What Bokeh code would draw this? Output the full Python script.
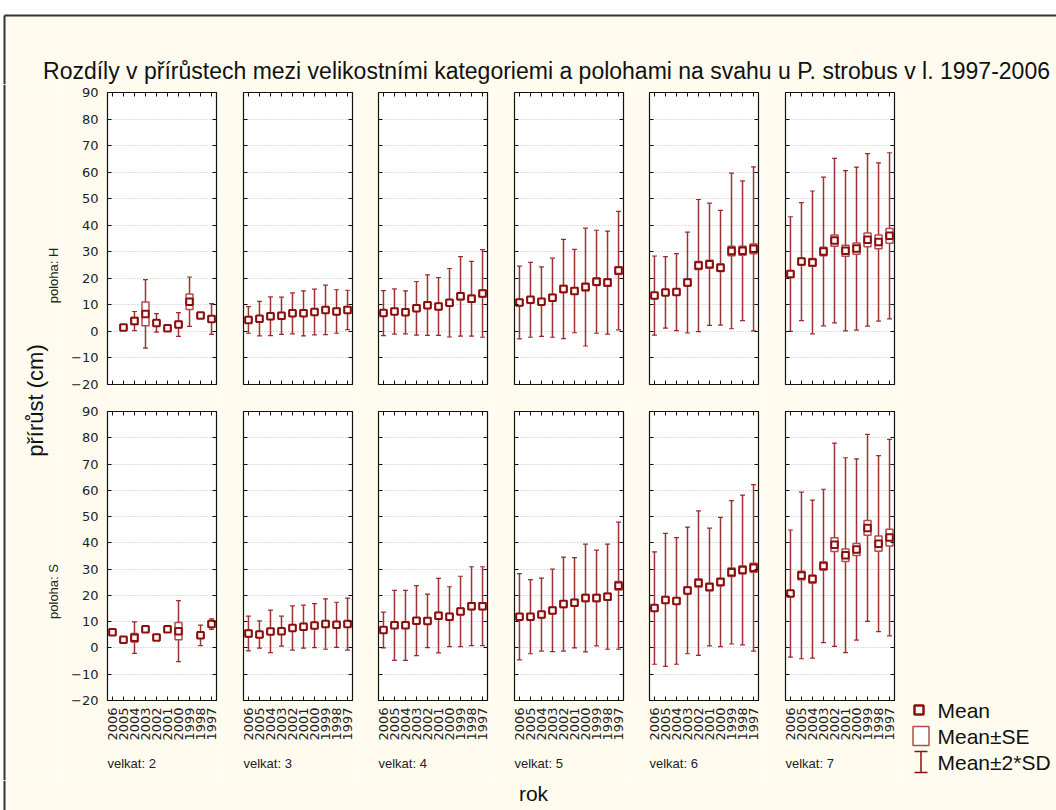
import math

from bokeh.core.properties import value
from bokeh.embed import file_html
from bokeh.layouts import column, row
from bokeh.models import ColumnDataSource, FixedTicker, Grid, LinearAxis, Range1d, Title
from bokeh.plotting import figure
from bokeh.resources import INLINE

nan = float("nan")

# ---------------------------------------------------------------- data
years = ["2006", "2005", "2004", "2003", "2002", "2001", "2000", "1999", "1998", "1997"]
velkat = [2, 3, 4, 5, 6, 7]
poloha = ["H", "S"]

# poloha H: means, standard errors and 2*SD half-widths, one list per velkat
mean_H = [
    [nan, 1.5, 3.9, 6.6, 3.2, 1.2, 2.6, 11.2, 6.0, 4.7],
    [4.3, 4.8, 5.7, 5.9, 6.8, 6.8, 7.3, 8.1, 7.5, 8.1],
    [6.9, 7.5, 7.2, 8.7, 9.9, 9.4, 10.8, 13.2, 12.3, 14.3],
    [10.9, 11.9, 11.2, 12.7, 16.0, 15.2, 16.7, 18.7, 18.4, 22.9],
    [13.5, 14.7, 14.8, 18.4, 24.8, 25.3, 24.0, 30.3, 30.4, 31.1],
    [21.6, 26.3, 26.0, 30.1, 34.2, 30.4, 31.2, 34.5, 33.7, 36.0],
]
se_H = [
    [nan, 0.9, 1.3, 4.5, 1.0, 1.0, 1.1, 2.9, 1.0, 1.2],
    [1.0, 1.0, 1.0, 1.0, 1.0, 1.0, 1.0, 1.1, 1.1, 1.2],
    [1.0, 1.0, 1.0, 1.0, 1.1, 1.1, 1.1, 1.3, 1.3, 1.3],
    [1.1, 1.1, 1.1, 1.2, 1.3, 1.2, 1.4, 1.4, 1.4, 1.5],
    [1.1, 1.1, 1.1, 1.3, 1.5, 1.5, 1.4, 1.8, 1.7, 1.8],
    [1.2, 1.3, 1.5, 1.6, 2.1, 2.1, 2.1, 2.6, 2.6, 2.8],
]
sd2_H = [
    [nan, nan, 3.6, 12.9, 3.5, nan, 4.5, 9.3, nan, 5.8],
    [5.0, 6.5, 7.3, 7.0, 7.7, 8.5, 8.6, 9.3, 8.2, 7.4],
    [8.5, 8.5, 8.1, 10.1, 11.4, 10.9, 12.9, 15.0, 14.1, 16.5],
    [13.7, 14.1, 13.1, 14.9, 18.7, 15.7, 22.2, 19.4, 19.4, 22.3],
    [14.9, 13.5, 14.5, 19.0, 24.9, 23.0, 21.6, 29.3, 26.3, 30.9],
    [21.6, 22.2, 26.9, 28.0, 31.0, 30.2, 30.7, 32.5, 29.8, 31.3],
]

# poloha S
mean_S = [
    [6.0, 3.1, 3.9, 7.1, 4.0, 7.1, 6.4, nan, 4.8, 9.1],
    [5.5, 5.1, 6.3, 6.4, 7.6, 8.1, 8.5, 9.1, 8.8, 9.1],
    [6.8, 8.6, 8.6, 10.4, 10.3, 12.3, 11.9, 13.9, 15.9, 15.9],
    [11.9, 11.9, 12.7, 14.3, 16.7, 17.2, 19.0, 19.0, 19.5, 23.7],
    [15.2, 18.3, 17.9, 21.9, 24.7, 23.2, 25.1, 28.8, 29.7, 30.5],
    [20.7, 27.6, 26.2, 31.2, 39.3, 35.3, 37.5, 45.7, 39.7, 42.0],
]
se_S = [
    [1.0, 1.0, 1.6, 1.0, 1.0, 1.0, 3.3, nan, 1.0, 1.1],
    [1.2, 1.0, 1.0, 1.0, 1.0, 1.0, 1.0, 1.1, 1.0, 1.1],
    [1.1, 1.1, 1.1, 1.1, 1.1, 1.2, 1.2, 1.2, 1.3, 1.3],
    [1.1, 1.1, 1.1, 1.2, 1.3, 1.2, 1.3, 1.3, 1.3, 1.6],
    [1.1, 1.2, 1.2, 1.3, 1.5, 1.4, 1.4, 1.6, 1.5, 1.7],
    [1.1, 1.6, 1.5, 1.5, 2.6, 2.4, 2.3, 2.8, 2.9, 3.2],
]
sd2_S = [
    [nan, nan, 6.0, nan, nan, nan, 11.6, nan, 3.9, 2.0],
    [6.6, 5.2, 8.1, 5.7, 8.4, 8.2, 8.4, 9.6, 8.6, 9.9],
    [6.8, 13.3, 13.3, 13.3, 10.2, 14.2, 11.4, 13.4, 15.0, 15.0],
    [16.4, 14.1, 13.9, 15.7, 17.9, 17.2, 20.5, 18.2, 20.0, 24.2],
    [21.4, 25.3, 24.1, 24.1, 27.5, 22.4, 24.6, 27.3, 28.5, 31.7],
    [24.2, 31.7, 30.1, 29.2, 38.7, 37.1, 34.5, 35.6, 33.5, 37.4],
]

y_ticks = [-20, -10, 0, 10, 20, 30, 40, 50, 60, 70, 80, 90]

title_text = ("Rozdíly v přírůstech mezi velikostními kategoriemi a polohami "
              "na svahu u P. strobus v l. 1997-2006")

# ---------------------------------------------------------------- style
CREAM = "#FFFCEF"
RED = "#8C0F0F"
RED_LIGHT = "#B24C4C"
GRID = "#BDBDBD"
FONT = "Liberation Sans"
TICK_FONT = "DejaVu Sans"

FRAME_W = 109
FRAME_H = 292
LEFT_BORDERS = [45, 21, 20, 21, 20, 21]
RIGHT_BORDER = 6
TOP_BORDER = 8
HEADER_H = 92 - TOP_BORDER
TOP_ROW_H = TOP_BORDER + FRAME_H + 19
BOTTOM_ROW_H = TOP_BORDER + FRAME_H + 77
STRIP_L = 62
STRIP_R = 1056 - 900
BODY_H = TOP_ROW_H + BOTTOM_ROW_H


def blank(width, height, y_top=0):
    """A bare canvas in pixel-like coordinates (y grows downward)."""
    p = figure(width=width, height=height,
               x_range=Range1d(0, width), y_range=Range1d(y_top + height, y_top),
               min_border=0, x_axis_location=None, y_axis_location=None,
               output_backend="svg", toolbar_location=None,
               background_fill_color=CREAM, border_fill_color=CREAM,
               outline_line_color=None)
    p.grid.visible = False
    return p


def add_axis(p, side, ticker, overrides=None, show_labels=False, orientation=0.0):
    ax = LinearAxis(ticker=ticker, major_tick_in=4, major_tick_out=0,
                    minor_tick_in=0, minor_tick_out=0,
                    axis_line_color=None, major_tick_line_color="#111111",
                    major_tick_line_width=1)
    if overrides:
        ax.major_label_overrides = overrides
    if show_labels:
        ax.major_label_text_font = TICK_FONT
        ax.major_label_text_font_size = "13px"
        ax.major_label_text_color = "#222222"
        ax.major_label_standoff = 9 if side == "left" else 7
        ax.major_label_orientation = orientation
    else:
        # tick marks only
        ax.major_label_text_font_size = "0px"
        ax.major_label_text_color = None
        ax.major_label_standoff = 0
    p.add_layout(ax, side)


def panel(ci, ri, mean, se, sd2):
    bottom_row = ri == 1
    lb = LEFT_BORDERS[ci]
    bb = 77 if bottom_row else 19
    p = figure(width=lb + FRAME_W + RIGHT_BORDER, height=TOP_BORDER + FRAME_H + bb,
               x_range=Range1d(0.55, 10.45), y_range=Range1d(-20, 90),
               x_axis_location=None, y_axis_location=None,
               min_border_left=lb, min_border_right=RIGHT_BORDER,
               min_border_top=TOP_BORDER, min_border_bottom=bb,
               output_backend="svg", toolbar_location=None,
               background_fill_color="white", border_fill_color=CREAM,
               outline_line_color="#111111", outline_line_width=1.2)
    p.grid.visible = False

    yt = FixedTicker(ticks=y_ticks)
    xt = FixedTicker(ticks=list(range(1, 11)))
    p.add_layout(Grid(dimension=1, ticker=yt, grid_line_color=GRID,
                      grid_line_dash="1 2", grid_line_width=1))

    add_axis(p, "left", yt, show_labels=(ci == 0))
    add_axis(p, "right", yt)
    add_axis(p, "above", xt)
    add_axis(p, "below", xt, overrides={i + 1: y for i, y in enumerate(years)},
             show_labels=bottom_row, orientation=math.pi / 2)

    pts = [i for i in range(len(years)) if not math.isnan(mean[i])]
    src = ColumnDataSource(dict(
        x=[i + 1 for i in pts],
        m=[mean[i] for i in pts],
        h=[2 * se[i] for i in pts],
    ))
    wpts = [i for i in pts if not math.isnan(sd2[i])]
    wsrc = ColumnDataSource(dict(
        x=[i + 1 for i in wpts],
        lo=[mean[i] - sd2[i] for i in wpts],
        hi=[mean[i] + sd2[i] for i in wpts],
    ))

    # Mean ± 2*SD
    p.segment(x0="x", y0="lo", x1="x", y1="hi", source=wsrc,
              line_color=RED, line_width=1.5, line_alpha=0.85)
    p.scatter(x="x", y="lo", source=wsrc, marker="dash", size=5,
              line_color=RED, line_width=1.2, line_alpha=0.85)
    p.scatter(x="x", y="hi", source=wsrc, marker="dash", size=5,
              line_color=RED, line_width=1.2, line_alpha=0.85)
    # Mean ± SE
    p.rect(x="x", y="m", width=7, width_units="screen", height="h", source=src,
           fill_color="white", line_color=RED_LIGHT, line_width=1.5)
    # Mean
    p.scatter(x="x", y="m", source=src, marker="square", size=6.5,
              fill_color="white", line_color=RED, line_width=2)

    if bottom_row:
        p.add_layout(Title(text=f"velkat: {velkat[ci]}", align="left", offset=0,
                           text_font=FONT, text_font_size="13px",
                           text_font_style="normal", text_color="#222222",
                           standoff=20), "below")
    return p


top = row([panel(c, 0, mean_H[c], se_H[c], sd2_H[c]) for c in range(6)])
bottom = row([panel(c, 1, mean_S[c], se_S[c], sd2_S[c]) for c in range(6)])

# ---------------------------------------------------------------- header
header = blank(1056, HEADER_H)
header.border_fill_color = "white"
header.background_fill_color = "white"
header.quad(left=[4], right=[1056], top=[15], bottom=[HEADER_H], fill_color=CREAM, line_color=None)
header.segment(x0=[4], y0=[15], x1=[1056], y1=[15], line_color="#333333", line_width=2)
header.segment(x0=[4], y0=[15], x1=[4], y1=[HEADER_H], line_color="#333333", line_width=2)
header.text(x=[546], y=[70], text=[title_text], text_align="center",
            text_baseline="middle", text_font=value(FONT), text_font_size="23px",
            text_color="#111111")

# ---------------------------------------------------------------- left strip
left = blank(STRIP_L, BODY_H, y_top=HEADER_H)
left.border_fill_color = "white"
left.background_fill_color = "white"
left.quad(left=[4], right=[STRIP_L], top=[HEADER_H], bottom=[HEADER_H + BODY_H],
          fill_color=CREAM, line_color=None)
left.segment(x0=[4], y0=[HEADER_H], x1=[4], y1=[HEADER_H + BODY_H], line_color="#333333", line_width=2)
for lab, yc in zip([f"poloha: {k}" for k in poloha], [275, 591]):
    left.text(x=[53], y=[yc], text=[lab], angle=math.pi / 2, text_align="center",
              text_baseline="middle", text_font=value(FONT), text_font_size="13px",
              text_color="#222222")
left.text(x=[35], y=[400], text=["přírůst (cm)"], angle=math.pi / 2, text_align="center",
          text_baseline="middle", text_font=value(FONT), text_font_size="22px",
          text_color="#111111")

# ---------------------------------------------------------------- right strip with legend
right = blank(STRIP_R, BODY_H, y_top=HEADER_H)
x0 = 900
right.scatter(x=[918.5 - x0], y=[709.5], marker="square", size=9,
              fill_color="white", line_color=RED, line_width=2.5)
right.rect(x=[920.5 - x0], y=[735.5], width=16, height=19,
           fill_color="white", line_color=RED_LIGHT, line_width=1.5)
right.segment(x0=[920.5 - x0], y0=[751], x1=[920.5 - x0], y1=[772], line_color=RED, line_width=1.5)
right.segment(x0=[914 - x0, 914 - x0], y0=[751, 772], x1=[927 - x0, 927 - x0], y1=[751, 772],
              line_color=RED, line_width=1.5)
right.text(x=[937 - x0] * 3, y=[710, 736, 762], text=["Mean", "Mean±SE", "Mean±2*SD"],
           text_align="left", text_baseline="middle", text_font=value(FONT),
           text_font_size="21px", text_color="#111111")

# ---------------------------------------------------------------- footer
footer = blank(1056, 30, y_top=780)
footer.border_fill_color = "white"
footer.background_fill_color = "white"
footer.quad(left=[4], right=[1056], top=[780], bottom=[810], fill_color=CREAM, line_color=None)
footer.segment(x0=[4], y0=[780], x1=[4], y1=[810], line_color="#333333", line_width=2)
footer.text(x=[533], y=[793], text=["rok"], text_align="center", text_baseline="middle",
            text_font=value(FONT), text_font_size="21px", text_color="#111111")

layout = column(header, row(left, column(top, bottom), right), footer)

open("out.html", "w").write(file_html(layout, INLINE))
